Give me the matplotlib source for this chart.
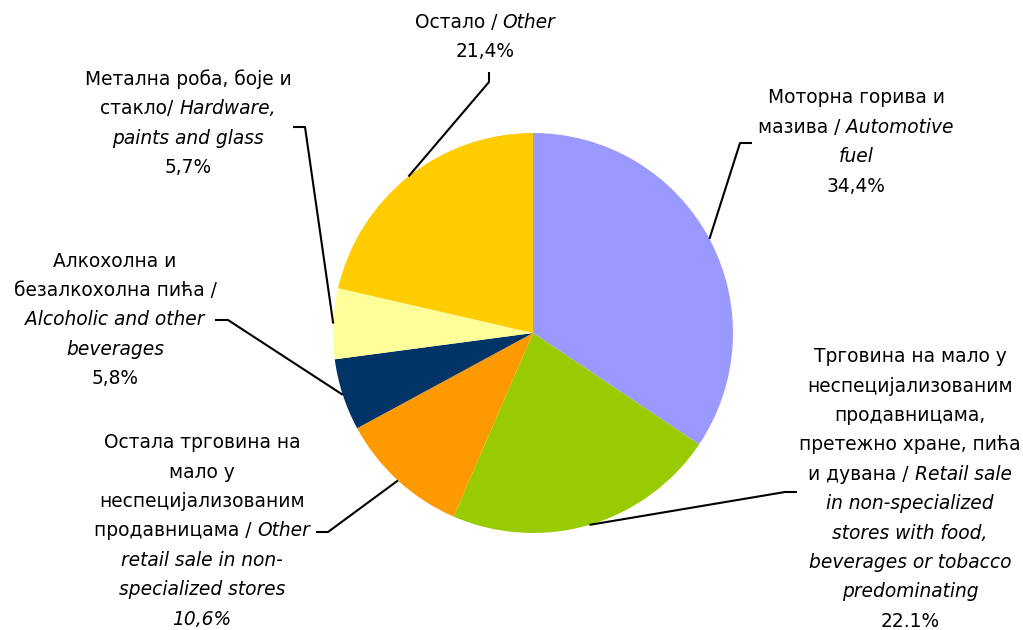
import matplotlib.pyplot as plt
import numpy as np
from matplotlib.offsetbox import TextArea, HPacker, VPacker, AnnotationBbox

# shares of retail turnover, clockwise from the top
shares = [34.4, 22.1, 10.6, 5.8, 5.7, 21.4]
colors = ['#9999FF', '#99CC00', '#FF9900', '#003366', '#FFFF99', '#FFCC00']
pct_labels = ['34,4%', '22.1%', '10,6%', '5,8%', '5,7%', '21,4%']
pct_italic = [0, 0, 1, 0, 0, 0]

# label lines as (text, italic) pieces
names = [
    [[('Моторна горива и', 0)], [('мазива /', 0), ('Automotive', 1)], [('fuel', 1)]],
    [[('Трговина на мало у', 0)], [('неспецијализованим', 0)], [('продавницама,', 0)],
     [('претежно хране, пића', 0)], [('и дувана /', 0), ('Retail sale', 1)],
     [('in non-specialized', 1)], [('stores with food,', 1)],
     [('beverages or tobacco', 1)], [('predominating', 1)]],
    [[('Остала трговина на', 0)], [('мало у', 0)], [('неспецијализованим', 0)],
     [('продавницама /', 0), ('Other', 1)], [('retail sale in non-', 1)],
     [('specialized stores', 1)]],
    [[('Алкохолна и', 0)], [('безалкохолна пића /', 0)], [('Alcoholic and other', 1)],
     [('beverages', 1)]],
    [[('Метална роба, боје и', 0)], [('стакло/', 0), ('Hardware,', 1)],
     [('paints and glass', 1)]],
    [[('Остало /', 0), ('Other', 1)]],
]

W, H = 1023, 630
# layout in picture pixels (y down)
cx, cy, r = 533, 333, 200
label_xy = [(856, 142), (910, 489), (202, 531), (115, 320), (188, 123), (485, 37)]
elbows = [[(740, 143), (752, 143)], [(785, 492), (797, 492)], [(328, 532), (316, 532)],
          [(228, 320), (215, 320)], [(305, 127), (293, 127)], [(489, 82), (489, 72)]]

FS = 13.4

fig = plt.figure(figsize=(W / 100, H / 100), dpi=100)
ax = fig.add_axes([0, 0, 1, 1])

ax.pie(shares, colors=colors, startangle=90, counterclock=False,
       center=(cx, H - cy), radius=r, wedgeprops=dict(linewidth=0))
ax.set_xlim(0, W)
ax.set_ylim(0, H)
ax.set_aspect('equal')
ax.axis('off')

def piece(txt, it):
    return TextArea(txt, textprops=dict(fontsize=FS, color='black',
                                        style='italic' if it else 'normal'))

cum = np.cumsum(shares) - np.array(shares) / 2
for i in range(len(shares)):
    ang = np.deg2rad(90 - 360 * cum[i] / 100)
    ex, ey = cx + r * np.cos(ang), cy - r * np.sin(ang)
    pts = [(ex, ey)] + elbows[i]
    ax.plot([p[0] for p in pts], [H - p[1] for p in pts], color='black', lw=1.5,
            solid_capstyle='butt')

    rows = []
    for line in names[i] + [[(pct_labels[i], pct_italic[i])]]:
        rows.append(HPacker(children=[piece(t, it) for t, it in line],
                            align='baseline', pad=0, sep=4))
    box = VPacker(children=rows, align='center', pad=0, sep=7.5)
    lx, ly = label_xy[i]
    ab = AnnotationBbox(box, (lx, H - ly), xycoords='data', box_alignment=(0.5, 0.5),
                        frameon=False, pad=0)
    ax.add_artist(ab)

fig.savefig('out.png', dpi=100)
